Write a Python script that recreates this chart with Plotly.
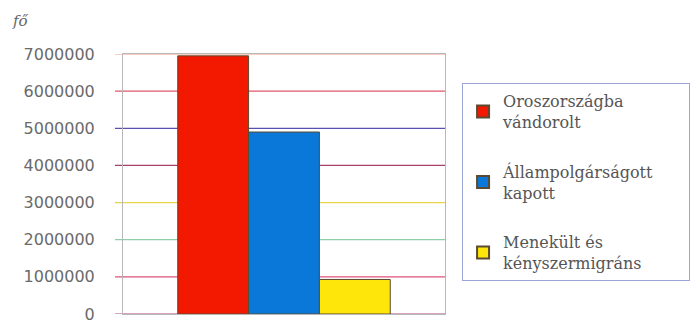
import plotly.graph_objects as go

series_names = ["Oroszországba<br>vándorolt",
                "Állampolgárságott&nbsp;&nbsp;&nbsp;&nbsp;&nbsp;&nbsp;<br>kapott",
                "Menekült és<br>kényszermigráns"]
series_values = [6950000, 4900000, 930000]
series_colors = ["#f31800", "#0a78d8", "#ffe60a"]
category = ["Összesen"]
tick_values = [0, 1000000, 2000000, 3000000, 4000000, 5000000, 6000000, 7000000]
tick_labels = ["0", "1000000", "2000000", "3000000", "4000000", "5000000", "6000000", "7000000"]
grid_colors = ["#b04a80", "#e0507a", "#8fcfa8", "#e6d44a", "#a8406e", "#5a50b0", "#e0566a", "#f0a088"]

fig = go.Figure()
for i, (n, v, c) in enumerate(zip(series_names, series_values, series_colors)):
    fig.add_trace(go.Bar(x=category, y=[v], name=n, marker=dict(color=c, line=dict(color="#5a4a30", width=1)),
                         legendgroup=str(i)))

for tv, gc in zip(tick_values, grid_colors):
    fig.add_shape(type="line", xref="paper", yref="y", x0=-0.025, x1=1, y0=tv, y1=tv,
                  line=dict(color=gc, width=1.2), layer="below")

fig.add_annotation(text="<i>fő</i>", xref="paper", yref="paper", x=-0.35, y=1.085, xanchor="left",
                   yanchor="bottom", showarrow=False, font=dict(family="DejaVu Serif", size=15, color="#666"))

fig.update_layout(
    width=694, height=324,
    margin=dict(l=123, r=249, t=54, b=10, autoexpand=False),
    paper_bgcolor="white", plot_bgcolor="white",
    barmode="group", bargap=0.34, bargroupgap=0,
    xaxis=dict(showticklabels=False, showgrid=False, zeroline=False, showline=True, mirror=True,
               linecolor="#b8b8b8", linewidth=1, automargin=False),
    yaxis=dict(range=[0, 7000000], tickvals=tick_values, ticktext=tick_labels, showgrid=False,
               zeroline=False, showline=True, mirror=True, linecolor="#b8b8b8", linewidth=1,
               ticks="", ticklabelstandoff=24, automargin=False,
               tickfont=dict(family="DejaVu Sans", size=16, color="#6a6a6a")),
    showlegend=True,
    legend=dict(x=1.053, y=0.888, xanchor="left", yanchor="top", bgcolor="white",
                bordercolor="#9aa6d6", borderwidth=1, tracegroupgap=26,
                font=dict(family="DejaVu Serif", size=16, color="#555"),
                itemsizing="constant", itemwidth=30),
)
fig.write_html("out.html")
